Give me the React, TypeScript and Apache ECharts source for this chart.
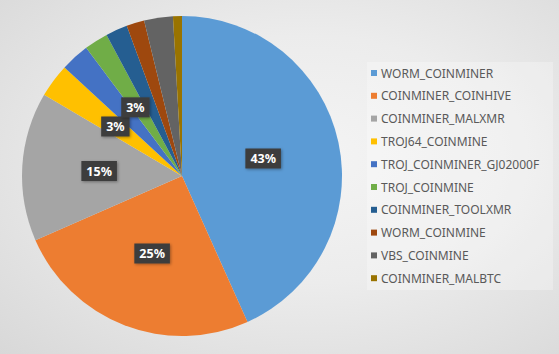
import React, { useEffect, useRef } from "react";
import * as echarts from "echarts";

const categories = [
  "WORM_COINMINER",
  "COINMINER_COINHIVE",
  "COINMINER_MALXMR",
  "TROJ64_COINMINE",
  "TROJ_COINMINER_GJ02000F",
  "TROJ_COINMINE",
  "COINMINER_TOOLXMR",
  "WORM_COINMINE",
  "VBS_COINMINE",
  "COINMINER_MALBTC",
];
const values = [43.2, 25.1, 15.0, 3.4, 2.9, 2.4, 2.2, 1.8, 2.9, 0.9];
const colors = [
  "#5B9BD5",
  "#ED7D31",
  "#A5A5A5",
  "#FFC000",
  "#4472C4",
  "#70AD47",
  "#255E91",
  "#9E480E",
  "#636363",
  "#997300",
];
const labelled = [true, true, true, true, true, false, false, false, false, false];

export default function App() {
  const ref = useRef<HTMLDivElement>(null);
  useEffect(() => {
    document.body.style.margin = "0";
    if (!ref.current) return;
    const chart = echarts.init(ref.current, null, { renderer: "svg" });
    chart.setOption({
      animation: false,
      color: colors,
      graphic: [
        {
          type: "rect",
          shape: { x: 367, y: 62, width: 186, height: 228 },
          style: { fill: "rgba(255,255,255,0.28)" },
          silent: true,
          z: 0,
        },
      ],
      legend: {
        orient: "vertical",
        left: 371,
        top: 66,
        padding: 0,
        itemWidth: 6,
        itemHeight: 6,
        itemGap: 8.8,
        icon: "rect",
        textStyle: {
          fontFamily: "Noto Sans",
          fontSize: 12,
          color: "#595959",
          lineHeight: 14,
          padding: [0, 0, 0, -1],
        },
        data: categories,
      },
      series: [
        {
          type: "pie",
          center: [182, 176],
          radius: 160,
          startAngle: 90,
          clockwise: true,
          percentPrecision: 2,
          avoidLabelOverlap: false,
          itemStyle: { borderWidth: 0 },
          label: {
            position: "inside",
            formatter: (p: any) => Math.round(p.percent) + "%",
            backgroundColor: "#3d3d3d",
            color: "#ffffff",
            fontFamily: "Noto Sans",
            fontWeight: "bold",
            fontSize: 12.5,
            padding: [4, 5, 3, 5],
            shadowBlur: 3,
            shadowColor: "rgba(0,0,0,0.35)",
            shadowOffsetX: 1,
            shadowOffsetY: 1,
          },
          labelLine: { show: false },
          labelLayout: (p: any) => (p.dataIndex === 4 ? { dx: 9, dy: -7 } : {}),
          emphasis: { disabled: true },
          data: categories.map((name, i) => ({
            name,
            value: values[i],
            label: { show: labelled[i] },
          })),
        },
      ],
    });
    return () => chart.dispose();
  }, []);
  return (
    <div
      ref={ref}
      style={{
        width: 559,
        height: 354,
        background:
          "radial-gradient(ellipse at 55% 45%, #f4f4f4 0%, #ececec 45%, #d8d8d8 100%)",
      }}
    />
  );
}
